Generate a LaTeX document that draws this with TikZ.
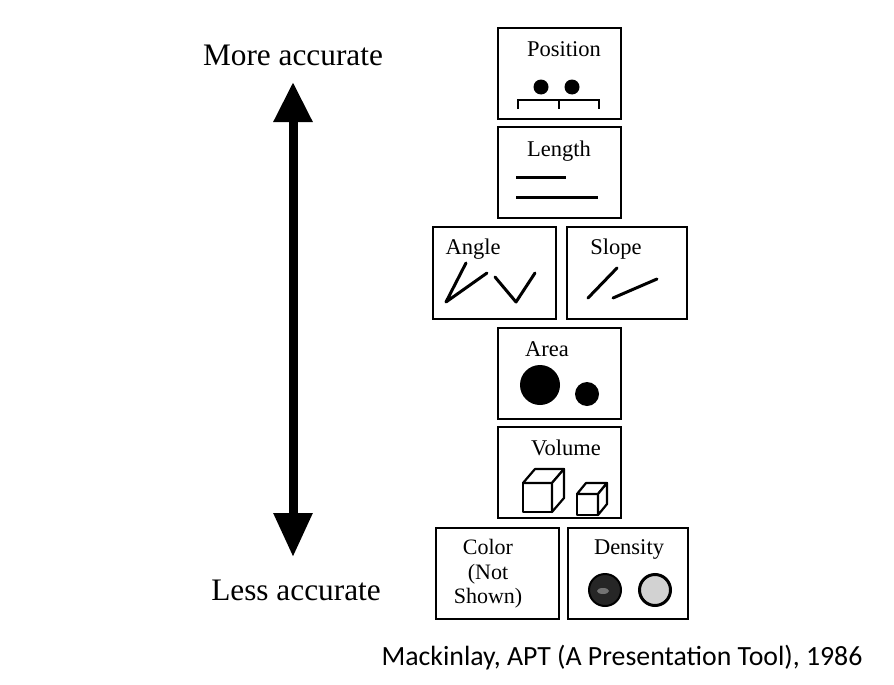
\documentclass[tikz,border=0pt]{standalone}
\usepackage{fontspec}
\setmainfont{Liberation Serif}
\newfontfamily\capfont{Carlito}
\usetikzlibrary{arrows.meta}
\begin{document}
\begin{tikzpicture}[x=1pt,y=-1pt,
  box/.style={draw, line width=2.3pt, minimum width=123pt, minimum height=91pt, inner sep=0pt},
  lbl/.style={font=\fontsize{22.5}{24}\selectfont, inner sep=0pt},
  big/.style={font=\fontsize{31.3}{33}\selectfont, inner sep=0pt},
  glyphline/.style={line width=3pt, line cap=round},
  cube/.style={line width=2.2pt, line join=round, fill=white}]
\useasboundingbox (0,0) rectangle (894,685);

% accuracy arrow
\node[big] (more) at (293,55) {More accurate};
\node[big] (less) at (296,590) {Less accurate};
\coordinate (top) at (293,82);
\coordinate (bot) at (293,557);
\draw[line width=9pt, {Triangle[width=37pt,length=40pt]}-{Triangle[width=37pt,length=44pt]}] (top) -- (bot);

% boxes
\node[box] (pos) at (559.5,73.5) {};
\node[box] (len) at (559.5,172.5) {};
\node[box, minimum height=92pt] (ang) at (494.5,273) {};
\node[box, minimum width=120pt, minimum height=92pt] (slo) at (627,273) {};
\node[box] (area) at (559.5,373.5) {};
\node[box] (vol) at (559.5,472.5) {};
\node[box] (col) at (497.5,573.5) {};
\node[box, minimum width=120pt] (den) at (628,573.5) {};

% labels
\node[lbl] (tpos) at (564,49) {Position};
\node[lbl] (tlen) at (559,151) {Length};
\node[lbl] (tang) at (473,249) {Angle};
\node[lbl] (tslo) at (616,249) {Slope};
\node[lbl] (tarea) at (547,349) {Area};
\node[lbl] (tvol) at (566,448) {Volume};
\node[lbl, align=center, font=\fontsize{22}{24.5}\selectfont] (tcol) at (488,574) {Color\\(Not\\Shown)};
\node[lbl] (tden) at (629,549) {Density};

% position glyph
\fill (541,87) circle[radius=7.5pt];
\fill (572,87) circle[radius=7.5pt];
\draw[line width=2pt] (518,109) -- (518,100) -- (599,100) -- (599,109);
\draw[line width=2pt] (559,100) -- (559,109);

% length glyph
\draw[line width=3pt] (516,177) -- (566,177);
\draw[line width=3pt] (516,197) -- (598,197);

% angle glyph
\draw[glyphline, line join=round] (466,263) -- (446,302) -- (487,273);
\draw[glyphline, line join=round] (495,277) -- (516,302) -- (535,273);

% slope glyph
\draw[glyphline] (588,298) -- (617,268);
\draw[glyphline] (613,298) -- (657,279);

% area glyph
\fill (540,385) circle[radius=20pt];
\fill (587,394) circle[radius=12pt];

% volume glyph
\draw[cube] (523,483) rectangle (552,512);
\draw[cube] (523,483) -- (535,469) -- (564,469) -- (552,483) -- cycle;
\draw[cube] (552,483) -- (564,469) -- (564,498) -- (552,512) -- cycle;
\draw[cube] (577,494) rectangle (598,515);
\draw[cube] (577,494) -- (586,483) -- (607,483) -- (598,494) -- cycle;
\draw[cube] (598,494) -- (607,483) -- (607,504) -- (598,515) -- cycle;

% density glyph
\draw[line width=2pt, fill=black!85] (605,590) circle[radius=16pt];
\fill[black!55] (603,591) ellipse[x radius=6pt, y radius=3pt];
\draw[line width=3pt, fill=gray!35] (655,590) circle[radius=15.5pt];

% caption
\node[font=\capfont\fontsize{27.8}{29}\selectfont, inner sep=0pt] (cap) at (622,658) {Mackinlay, APT (A Presentation Tool), 1986};
\end{tikzpicture}
\end{document}
